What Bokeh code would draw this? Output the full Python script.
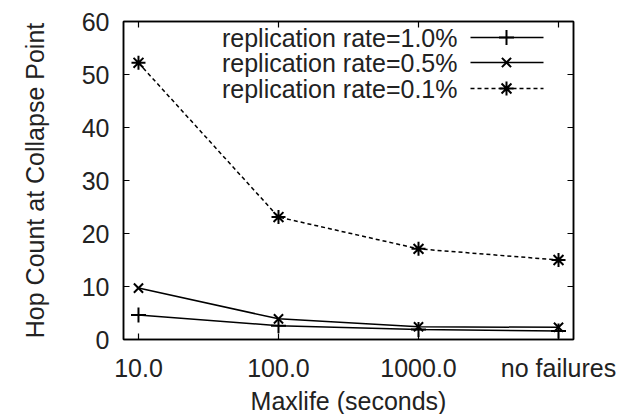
from bokeh.plotting import figure
from bokeh.models import Range1d, FixedTicker, LinearAxis, Title
from bokeh.embed import file_html
from bokeh.resources import INLINE
from bokeh.core.properties import value

# ---- data ----
categories = ["10.0", "100.0", "1000.0", "no failures"]
rate_1_0 = [4.6, 2.6, 1.9, 1.6]
rate_0_5 = [9.7, 3.9, 2.4, 2.3]
rate_0_1 = [52.2, 23.1, 17.1, 15.0]
series_labels = ["replication rate=1.0%", "replication rate=0.5%", "replication rate=0.1%"]
y_ticks = [0, 10, 20, 30, 40, 50, 60]
x_title = "Maxlife (seconds)"
y_title = "Hop Count at Collapse Point"

xs = list(range(len(categories)))

# ---- layout constants ----
X0, X1 = -0.107, 3.107
Y0, Y1 = 0, 60
FW, FH = 450, 318
FONT = "Liberation Sans"
FS = "25px"
TXT = "#222222"

p = figure(width=624, height=414, output_backend="svg", toolbar_location=None,
           x_range=Range1d(X0, X1), y_range=Range1d(Y0, Y1),
           min_border_left=123, min_border_right=51, min_border_top=21,
           min_border_bottom=75)
p.background_fill_color = "white"
p.border_fill_color = "white"
p.outline_line_color = "black"
p.outline_line_width = 1.5
p.xgrid.visible = False
p.ygrid.visible = False

xa = p.xaxis[0]
xa.ticker = FixedTicker(ticks=xs)
xa.major_label_overrides = {i: c for i, c in enumerate(categories)}
xa.major_label_standoff = 14

ya = p.yaxis[0]
ya.ticker = FixedTicker(ticks=y_ticks)
ya.axis_label = y_title
ya.major_label_standoff = 14
ya.axis_label_standoff = 30

for ax in (xa, ya):
    ax.major_tick_in = 6
    ax.major_tick_out = 0
    ax.minor_tick_in = 0
    ax.minor_tick_out = 0
    ax.axis_line_color = "black"
    ax.axis_line_width = 1.5
    ax.major_tick_line_color = "black"
    ax.major_tick_line_width = 1.2
    ax.major_label_text_font = FONT
    ax.major_label_text_font_size = FS
    ax.major_label_text_color = TXT
    ax.axis_label_text_font = FONT
    ax.axis_label_text_font_size = FS
    ax.axis_label_text_font_style = "normal"
    ax.axis_label_text_color = TXT

# mirrored ticks
top = LinearAxis(ticker=FixedTicker(ticks=xs))
right = LinearAxis(ticker=FixedTicker(ticks=y_ticks))
for ax in (top, right):
    ax.major_tick_in = 6
    ax.major_tick_out = 0
    ax.minor_tick_in = 0
    ax.minor_tick_out = 0
    ax.major_label_text_font_size = "0px"
    ax.major_label_standoff = 0
    ax.axis_line_color = "black"
    ax.axis_line_width = 1.5
    ax.major_tick_line_color = "black"
    ax.major_tick_line_width = 1.2
p.add_layout(top, "above")
p.add_layout(right, "right")

# x axis title as a bottom title panel
p.add_layout(Title(text=x_title, align="center", standoff=0, offset=0,
                   text_font=FONT, text_font_size=FS, text_font_style="normal",
                   text_color=TXT), "below")

# ---- series ----
styles = [
    (rate_1_0, "cross", 15, None),
    (rate_0_5, "x", 13, None),
    (rate_0_1, "asterisk", 14, "4 3"),
]
for vals, mk, sz, dash in styles:
    kw = {}
    if dash:
        kw["line_dash"] = dash
    p.line(xs, vals, line_color="black", line_width=1.5, **kw)
    p.scatter(xs, vals, marker=mk, size=sz, line_color="black", line_width=2)

# ---- helpers: frame pixel -> data ----
def dx(px):
    return X0 + px * (X1 - X0) / FW

def dy(py):
    return Y1 - py * (Y1 - Y0) / FH

# ---- legend (gnuplot style: text left, sample right) ----
rows = [16, 41, 67]
for (vals, mk, sz, dash), lab, ry in zip(styles, series_labels, rows):
    p.text([dx(334)], [dy(ry)], text=[lab], text_align="right", text_baseline="middle",
           text_font=value(FONT), text_font_size=FS, text_color=TXT)
    kw = {}
    if dash:
        kw["line_dash"] = dash
    p.line([dx(347), dx(420)], [dy(ry), dy(ry)], line_color="black", line_width=1.5, **kw)
    p.scatter([dx(383)], [dy(ry)], marker=mk, size=sz, line_color="black", line_width=2)

open("out.html", "w").write(file_html(p, INLINE))
